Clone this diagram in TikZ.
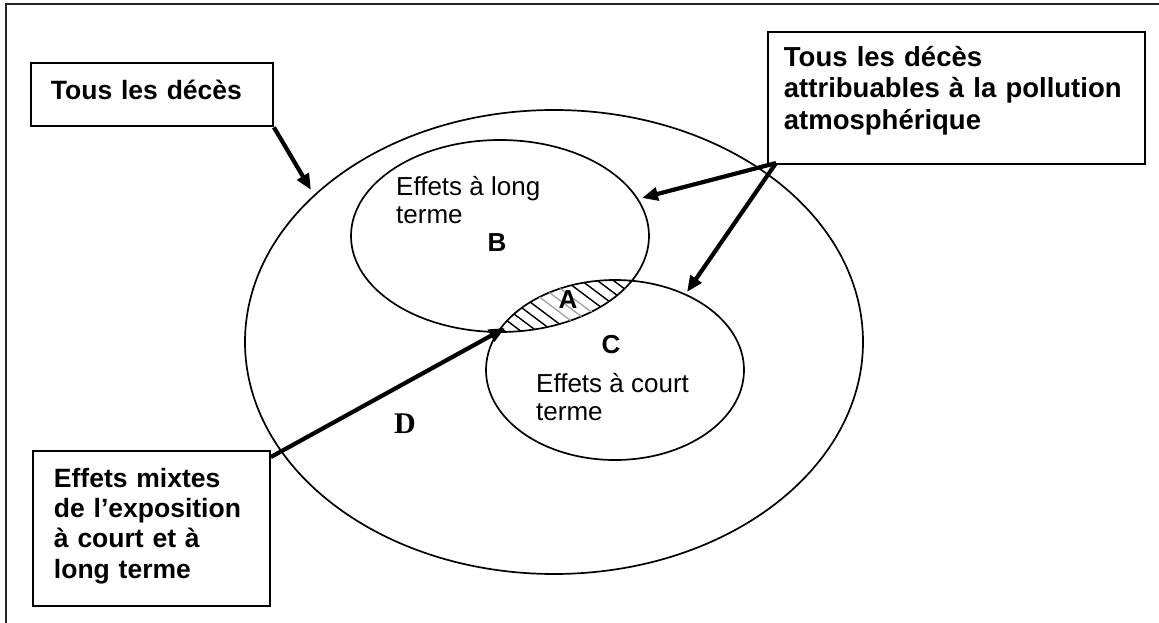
\documentclass[tikz,border=0pt]{standalone}
\usepackage{fontspec}
\setmainfont{Liberation Sans}
\newfontfamily\serifbold[BoldFont={Liberation Serif Bold}]{Liberation Serif}
\usetikzlibrary{arrows.meta}
\tikzset{
  frame/.style={line width=1.6pt, draw=black!85},
  set-line/.style={line width=1.7pt},
  label-box/.style={
    draw,
    line width=1.9pt,
    anchor=north west,
    align=left,
    inner ysep=17pt,
    font=\bfseries\fontsize{26.5}{31}\selectfont
  },
  set-text/.style={anchor=north west, inner sep=0pt, align=left, font=\fontsize{26}{28}\selectfont},
  set-name/.style={inner sep=0pt, font=\bfseries\fontsize{26}{30}\selectfont},
  pointer/.style={line width=4.2pt, -{Triangle[length=16pt,width=13pt]}},
  hatch/.style={line width=1.4pt}
}
% extra depth below the last line of a box
\newcommand{\padbelow}[1]{\rule[-#1]{0pt}{#1}}

\begin{document}
\begin{tikzpicture}[x=1pt, y=-1pt]
  \useasboundingbox (0,0) rectangle (1159,623);
  % page frame, only top and left shown
  \draw[frame] (6,623) -- (6,4) -- (1159,4);

  % the three sets
  \coordinate (all) at (554,342);
  \coordinate (longT) at (500,236);
  \coordinate (shortT) at (615,370);
  \draw[set-line] (all) ellipse [x radius=309pt, y radius=232pt];
  \draw[set-line] (longT) ellipse [x radius=149pt, y radius=96pt];
  \draw[set-line] (shortT) ellipse [x radius=129pt, y radius=90pt];

  % overlap A
  \begin{scope}
    \clip (longT) ellipse [x radius=149pt, y radius=96pt];
    \clip (shortT) ellipse [x radius=129pt, y radius=90pt];
    \foreach \x/\c in {438/black,454/black,470/black,486/black,502/black,518/black,
                       534/black,550/black!35,566/black!35,582/black!35,598/black,
                       614/black,630/black,646/black,662/black,678/black,694/black,710/black}
      \draw[hatch, \c] (\x-80,245) -- (\x+80,365);
  \end{scope}

  % texts inside
  \node[set-text] (longTxt) at (396,176) {Effets à long\\terme};
  \node[set-text] (shortTxt) at (536,373) {Effets à court\\terme};
  \node[set-name] (nameB) at (497,243) {B};
  \node[set-name] (nameA) at (568,300) {A};
  \node[set-name] (nameC) at (611,345) {C};
  \node[inner sep=0pt, font=\serifbold\bfseries\fontsize{30}{34}\selectfont] (nameD) at (405,424) {D};

  % label boxes
  \node[label-box, text width=202pt, inner xsep=20pt] (allDeaths) at (30,62)
    {Tous les décès\padbelow{10pt}};
  \node[label-box, text width=345pt, inner xsep=16pt, inner ysep=14pt,
        font=\bfseries\fontsize{27.5}{31.5}\selectfont] (airDeaths) at (767,31)
    {Tous les décès\\attribuables à la pollution\\atmosphérique\padbelow{21pt}};
  \node[label-box, text width=195pt, inner xsep=21pt, font=\bfseries\fontsize{26.5}{30.3}\selectfont] (mixed) at (32,450)
    {Effets mixtes\\de l’exposition\\à court et à\\long terme\padbelow{11pt}};

  % pointers
  \coordinate (allTip) at (311,190);
  \coordinate (longTip) at (642,198);
  \coordinate (shortTip) at (687,292);
  \coordinate (mixTip) at (505,328);
  \draw[pointer] (allDeaths.south east) -- (allTip);
  \draw[pointer] ([xshift=9pt, yshift=2pt]airDeaths.south west) -- (longTip);
  \draw[pointer] ([xshift=9pt, yshift=2pt]airDeaths.south west) -- (shortTip);
  \draw[pointer] ([yshift=-7pt]mixed.north east) -- (mixTip);
\end{tikzpicture}
\end{document}
